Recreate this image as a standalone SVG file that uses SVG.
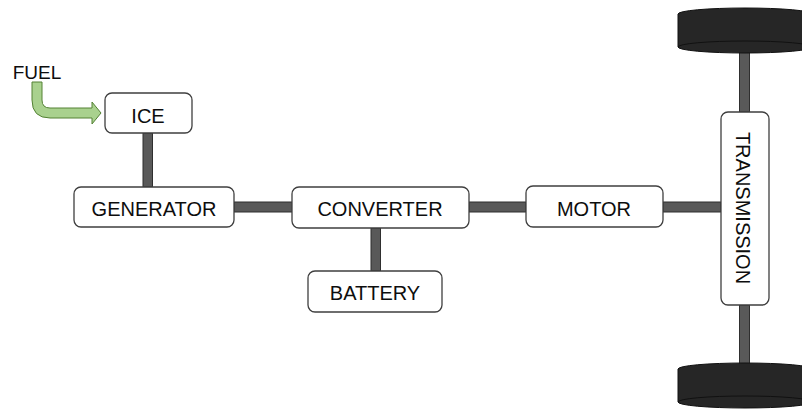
<svg xmlns="http://www.w3.org/2000/svg" width="802" height="413" viewBox="0 0 802 413">
<defs>
<style>
.box{fill:#ffffff;stroke:#3f3f3f;stroke-width:1.3}
.lbl{font-family:"Liberation Sans",Arial,sans-serif;font-size:20px;fill:#0d0d0d;text-anchor:middle}
.bar{fill:#595959;stroke:#2f2f2f;stroke-width:1}
.cap{fill:#4a4a4a;stroke:#2f2f2f;stroke-width:0.8}
.wheel{fill:#262626;stroke:#111111;stroke-width:1}
</style>
</defs>
<rect width="802" height="413" fill="#ffffff"/>

<g id="connectors">
  <rect class="bar" x="143" y="133" width="9.5" height="54"/>
  <rect class="bar" x="234" y="202" width="59" height="10"/>
  <rect class="bar" x="469" y="202" width="57" height="10"/>
  <rect class="bar" x="371" y="228" width="9.5" height="43"/>
  <rect class="bar" x="663" y="202" width="58" height="10"/>
  <rect class="bar" x="739.5" y="50" width="10" height="62"/>
  <rect class="bar" x="739.5" y="305" width="10" height="61"/>
</g>

<g id="fuel">
  <text class="lbl" x="37" y="79" font-size="19" style="font-size:19px">FUEL</text>
  <path d="M32,82 L42,82 L42,100 Q42,108 50,108 L92,108 L92,102 L101,113 L92,124 L92,118 L50,118 Q32,118 32,100 Z" fill="#a9d18e" stroke="#548235" stroke-width="1"/>
</g>

<g id="ice">
  <rect class="box" x="105" y="93" width="87" height="40" rx="7"/>
  <text class="lbl" x="148" y="123">ICE</text>
</g>

<g id="generator">
  <rect class="box" x="74" y="187" width="160" height="40" rx="7"/>
  <text class="lbl" x="154" y="216">GENERATOR</text>
</g>

<g id="converter">
  <rect class="box" x="292" y="187" width="177" height="41" rx="7"/>
  <text class="lbl" x="380" y="216">CONVERTER</text>
</g>

<g id="battery">
  <rect class="box" x="308" y="271" width="134" height="41" rx="7"/>
  <text class="lbl" x="375" y="300">BATTERY</text>
</g>

<g id="motor">
  <rect class="box" x="526" y="186" width="137" height="41" rx="7"/>
  <text class="lbl" x="594" y="216">MOTOR</text>
</g>

<g id="transmission">
  <rect class="box" x="721" y="112" width="48" height="193" rx="7"/>
  <text class="lbl" transform="translate(743,208) rotate(90)" x="0" y="7">TRANSMISSION</text>
</g>

<g id="wheel-top">
  <path class="wheel" d="M678,14 A67,6 0 0 1 812,14 L812,47 A67,6 0 0 1 678,47 Z"/>
  <path d="M678,47 A67,6 0 0 1 812,47" fill="none" stroke="#111111" stroke-width="1"/>
</g>

<g id="wheel-bottom">
  <path class="wheel" d="M678,369 A67,6 0 0 1 812,369 L812,402 A67,6 0 0 1 678,402 Z"/>
  <path d="M678,402 A67,6 0 0 1 812,402" fill="none" stroke="#111111" stroke-width="1"/>
</g>
</svg>
